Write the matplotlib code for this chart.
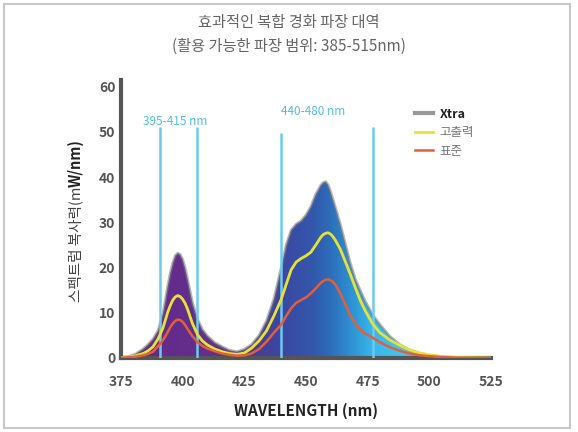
import matplotlib
matplotlib.use("Agg")
import matplotlib.pyplot as plt
import numpy as np
from matplotlib.colors import LinearSegmentedColormap
from matplotlib.patches import Rectangle

plt.rcParams["font.family"] = ["Noto Sans CJK KR", "DejaVu Sans"]

# wavelength grid (nm) and spectra
wavelength = [375, 378, 381, 384, 386, 388, 390,
              392, 393, 394, 395, 396, 397, 398, 399, 400, 401, 402, 403, 404,
              406, 408, 410, 413, 416, 419, 422, 425, 428, 431, 434, 437, 440,
              442, 444, 446, 448, 450, 452, 454, 456,
              457, 458, 459, 460, 461, 462,
              464, 466, 468, 470, 472, 474, 477, 480,
              484, 488, 492, 496, 500, 505, 510, 518, 525]
xtra = [0.1, 0.3, 0.9, 2.0, 3.0, 4.2, 6.0,
        9.8, 12.8, 16.0, 18.8, 21.0, 22.6, 23.2, 22.9, 21.8, 19.9, 17.5, 14.8, 12.2,
        8.6, 6.3, 4.9, 3.4, 2.5, 1.7, 1.4, 1.9, 3.0, 5.0, 8.2, 13.0, 20.0,
        25.0, 28.3, 29.6, 30.3, 31.6, 33.5, 36.2, 38.2,
        38.8, 39.0, 38.3, 36.8, 35.0, 33.2,
        29.5, 25.2, 21.0, 17.5, 15.0, 12.6, 9.6, 7.4,
        4.8, 3.0, 1.8, 1.1, 0.6, 0.3, 0.15, 0.05, 0.0]
high_output = [0.05, 0.2, 0.5, 1.0, 1.6, 2.5, 4.2,
               6.6, 8.4, 10.2, 11.6, 12.8, 13.5, 13.8, 13.6, 13.0, 12.1, 10.8, 9.2, 7.6,
               5.2, 3.8, 2.9, 2.0, 1.4, 1.0, 0.8, 1.1, 2.2, 3.8, 6.0, 9.3, 13.0,
               16.3, 19.5, 21.2, 22.0, 22.6, 23.4, 25.0, 26.7,
               27.3, 27.6, 27.7, 27.4, 26.8, 26.0,
               24.0, 21.3, 18.5, 15.6, 12.8, 10.5, 7.6, 5.6,
               4.0, 2.8, 1.8, 1.1, 0.7, 0.35, 0.15, 0.05, 0.0]
standard = [0.05, 0.15, 0.3, 0.6, 0.9, 1.4, 2.6,
            3.9, 4.8, 5.8, 6.8, 7.6, 8.2, 8.5, 8.4, 8.0, 7.3, 6.4, 5.6, 4.8,
            3.5, 2.7, 2.1, 1.5, 1.0, 0.7, 0.5, 0.6, 1.0, 2.0, 3.6, 5.6, 7.4,
            9.3, 11.0, 12.2, 12.8, 13.4, 14.3, 15.4, 16.6,
            17.0, 17.3, 17.4, 17.2, 16.8, 16.2,
            14.2, 11.8, 9.4, 7.6, 6.3, 5.4, 4.5, 3.5,
            2.4, 1.6, 1.0, 0.6, 0.4, 0.2, 0.1, 0.03, 0.0]

band_lines = [391, 406, 440, 477]
band_tops = [51, 51, 49.7, 51]
band_labels = ["395-415 nm", "440-480 nm"]
x_ticks = [375, 400, 425, 450, 475, 500, 525]
y_ticks = [0, 10, 20, 30, 40, 50, 60]

fig = plt.figure(figsize=(5.78, 4.32), dpi=100)
fig.patches.append(Rectangle((0.007, 0.009), 0.979, 0.982, transform=fig.transFigure,
                             fill=False, edgecolor="#c8c8c8", linewidth=1.5))
ax = fig.add_axes([0.2093, 0.1713, 0.640, 0.6435])
ax.set_xlim(375, 525)
ax.set_ylim(0, 61.5)

# gradient fill under the Xtra curve
grad = LinearSegmentedColormap.from_list("spec", [
    (0.00, "#2a1838"), (0.05, "#55287c"), (0.10, "#642b8c"), (0.25, "#62308e"),
    (0.36, "#483c98"), (0.45, "#3a4aa4"), (0.52, "#3258ac"), (0.57, "#2c70bb"),
    (0.62, "#2e8fd2"), (0.68, "#38b6ea"), (0.76, "#40c6f0"), (1.00, "#42c8f0")])
poly = ax.fill_between(wavelength, xtra, 0, color="none", lw=0)
img = ax.imshow(np.linspace(0, 1, 300)[None, :], cmap=grad, aspect="auto",
                extent=[375, 525, 0, 61.5], origin="lower", zorder=1)
img.set_clip_path(poly.get_paths()[0], transform=ax.transData)
ax.plot(wavelength, xtra, color="#7a7a7a", lw=2.0, alpha=0.55, zorder=2)

ax.vlines(band_lines, 0, band_tops, color="#6ccaf0", lw=1.8, zorder=3)
ax.text(397, 51.6, band_labels[0], color="#4fbde8", fontsize=8.5, ha="center")
ax.text(453, 53.8, band_labels[1], color="#4fbde8", fontsize=8.5, ha="center")

ax.plot([], [], color="#9a9a9a", lw=3, label="Xtra")
ax.plot(wavelength, high_output, color="#e8e236", lw=2, zorder=4, label="고출력")
ax.plot(wavelength, standard, color="#e0603c", lw=1.8, zorder=4, label="표준")

for side in ["top", "right"]:
    ax.spines[side].set_visible(False)
for side in ["left", "bottom"]:
    ax.spines[side].set_color("#555555")
    ax.spines[side].set_linewidth(3)
ax.set_xticks(x_ticks)
ax.set_yticks(y_ticks)
ax.tick_params(length=0, labelcolor="#555555")
ax.tick_params(axis="x", pad=12)
ax.tick_params(axis="y", pad=4)
for lab in ax.get_xticklabels() + ax.get_yticklabels():
    lab.set_fontweight("bold")
    lab.set_fontsize(10)

ax.set_xlabel("WAVELENGTH (nm)", fontsize=11, fontweight="bold", color="#222222",
              labelpad=10)

# y label: plain part + bold part
fig.text(0.131, 0.567, "스펙트럼 복사력(m", rotation=90, ha="center", va="top",
         fontsize=10.5, color="#444444")
fig.text(0.131, 0.567, "W/nm)", rotation=90, ha="center", va="bottom",
         fontsize=10.5, color="#222222", fontweight="bold")

fig.text(0.5, 0.947, "효과적인 복합 경화 파장 대역", ha="center", va="center",
         fontsize=11, color="#666666")
fig.text(0.5, 0.892, "(활용 가능한 파장 범위: 385-515nm)", ha="center", va="center",
         fontsize=11, color="#666666")

leg = ax.legend(loc="upper left", bbox_to_anchor=(0.698, 0.777), bbox_transform=fig.transFigure,
                frameon=False, fontsize=9, handlelength=1.5, handletextpad=0.5,
                labelspacing=0.45)
leg.get_texts()[0].set_fontweight("bold")
leg.get_texts()[0].set_color("#222222")
for t in leg.get_texts()[1:]:
    t.set_color("#777777")

fig.savefig("out.png", dpi=100)
